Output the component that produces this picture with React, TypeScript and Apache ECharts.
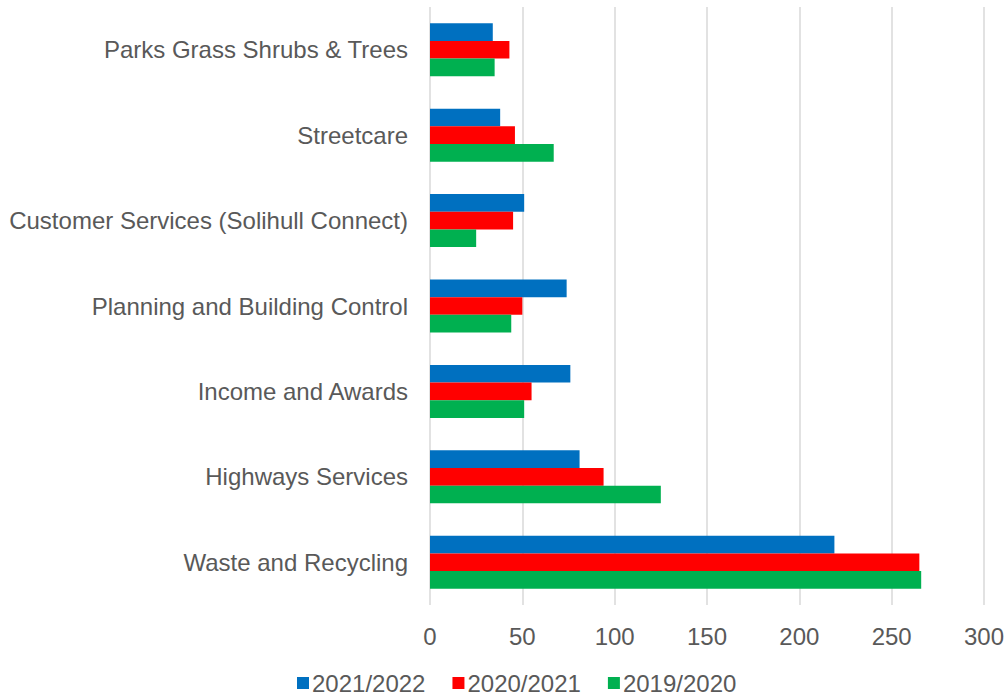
import React, { useEffect, useRef } from "react";
import * as echarts from "echarts";

const categories = [
  "Parks Grass Shrubs & Trees",
  "Streetcare",
  "Customer Services (Solihull Connect)",
  "Planning and Building Control",
  "Income and Awards",
  "Highways Services",
  "Waste and Recycling",
];
const seriesNames = ["2021/2022", "2020/2021", "2019/2020"];
const values2122 = [34, 38, 51, 74, 76, 81, 219];
const values2021 = [43, 46, 45, 50, 55, 94, 265];
const values1920 = [35, 67, 25, 44, 51, 125, 266];
const colors = ["#0070C0", "#FF0000", "#00B050"];
const xTicks = { min: 0, max: 300, interval: 50 };

export default function App() {
  const ref = useRef<HTMLDivElement>(null);
  useEffect(() => {
    if (!ref.current) return;
    const chart = echarts.init(ref.current, null, { renderer: "svg" });
    const font = "'Liberation Sans', Arial, sans-serif";
    const dataSets = [values2122, values2021, values1920];
    chart.setOption({
      animation: false,
      textStyle: { fontFamily: font },
      grid: { left: 430, right: 22, top: 7, bottom: 92, containLabel: false },
      legend: {
        bottom: -3,
        left: 292,
        itemWidth: 12,
        itemHeight: 12,
        itemGap: 27,
        icon: "rect",
        data: seriesNames,
        textStyle: { fontSize: 24, color: "#595959", fontFamily: font, padding: [0, 0, 0, -2] },
      },
      xAxis: {
        type: "value",
        min: xTicks.min,
        max: xTicks.max,
        interval: xTicks.interval,
        axisLine: { show: false },
        axisTick: { show: false },
        axisLabel: { fontSize: 24, color: "#595959", margin: 19, fontFamily: font },
        splitLine: { show: true, lineStyle: { color: "#D9D9D9", width: 1.5 } },
      },
      yAxis: {
        type: "category",
        inverse: true,
        data: categories,
        axisLine: { show: false },
        axisTick: { show: false },
        axisLabel: { fontSize: 24, color: "#595959", margin: 22, fontFamily: font },
        splitLine: { show: false },
      },
      series: seriesNames.map((name, i) => ({
        name,
        type: "bar",
        data: dataSets[i],
        itemStyle: { color: colors[i] },
        barGap: "0%",
        barCategoryGap: "38%",
      })),
    });
    return () => chart.dispose();
  }, []);
  return (
    <div
      ref={ref}
      style={{ position: "fixed", left: 0, top: 0, width: 1007, height: 697, background: "#fff" }}
    />
  );
}
